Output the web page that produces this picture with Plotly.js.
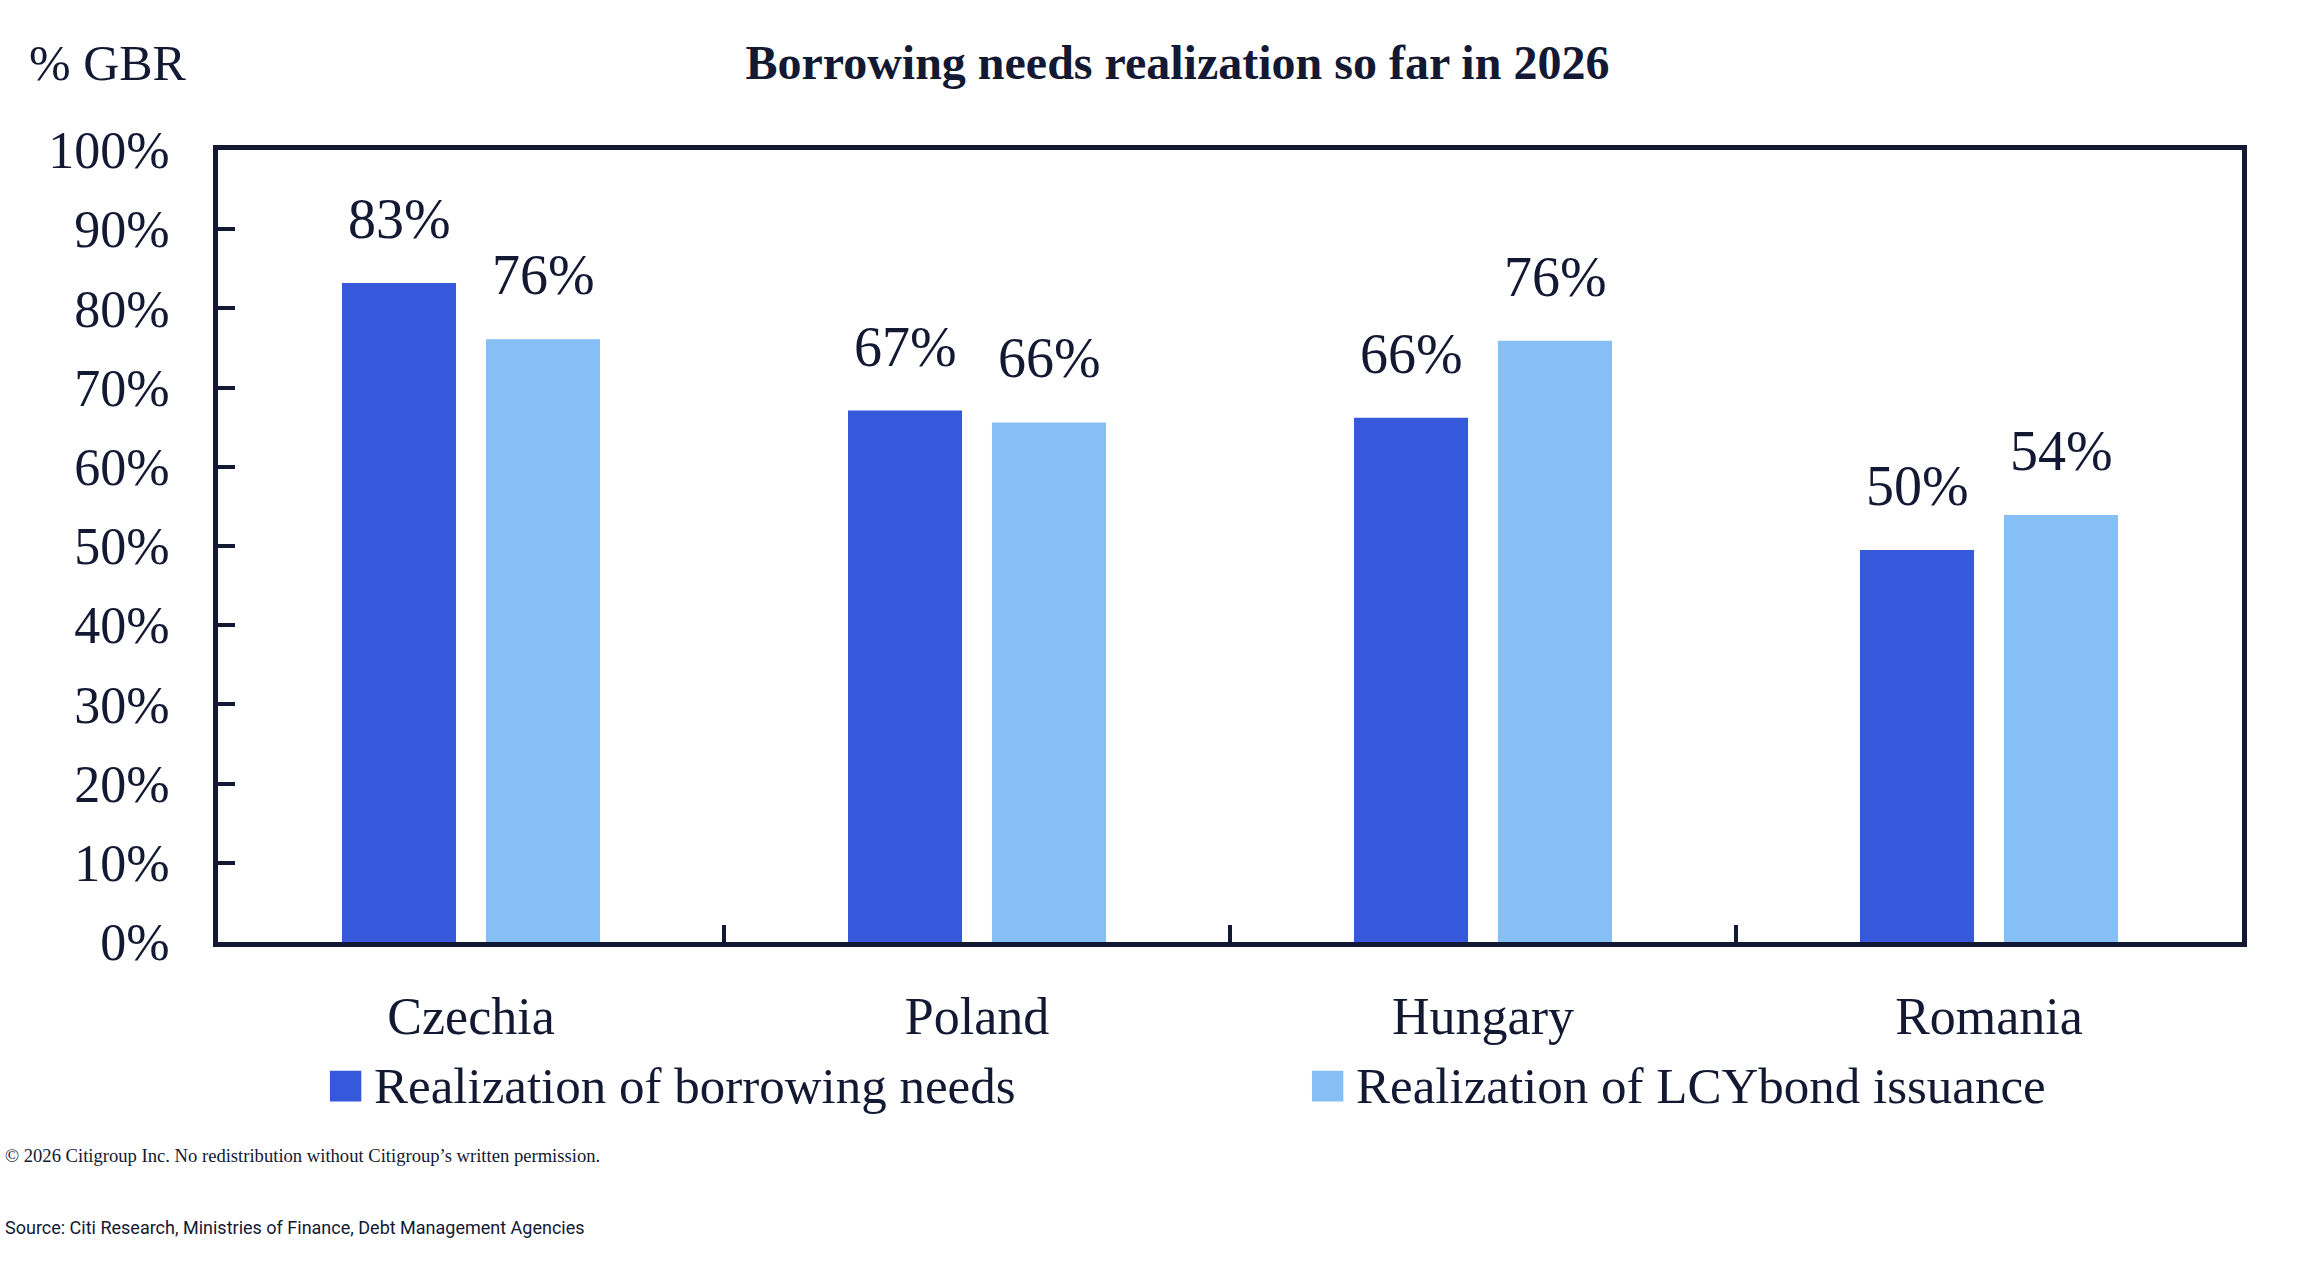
<!DOCTYPE html>
<html>
<head>
<meta charset="utf-8">
<script src="https://cdn.plot.ly/plotly-3.0.1.min.js"></script>
<style>
  html, body { margin: 0; padding: 0; background: #ffffff; }
  #chart { width: 2302px; height: 1268px; }
</style>
</head>
<body>
<div id="chart"></div>
<script>
// chart data
var categories = ['Czechia', 'Poland', 'Hungary', 'Romania'];
var seriesNames = ['Realization of borrowing needs', 'Realization of LCYbond issuance'];
var borrowingNeeds = [83.2, 67.1, 66.2, 49.5];
var lcyBondIssuance = [76.1, 65.6, 75.9, 53.9];
var yTickValues = [0, 10, 20, 30, 40, 50, 60, 70, 80, 90, 100];

(function () {
  'use strict';

  var ink = '#131833';
  var serif = '"Liberation Serif", "DejaVu Serif", serif';
  var colors = ['#3559DA', '#86BFF6'];
  var series = [borrowingNeeds, lcyBondIssuance];

  var traces = series.map(function (vals, i) {
    return {
      type: 'bar',
      name: seriesNames[i],
      x: categories,
      y: vals,
      marker: { color: colors[i], line: { width: 0 } },
      showlegend: false,
      hoverinfo: 'skip'
    };
  });

  // value labels above the bars
  var annotations = [];
  series.forEach(function (vals, s) {
    vals.forEach(function (v, i) {
      annotations.push({
        x: categories[i],
        y: v,
        xref: 'x',
        yref: 'y',
        xshift: s === 0 ? -72 : 72,
        yshift: 31,
        yanchor: 'bottom',
        xanchor: 'center',
        showarrow: false,
        text: Math.round(v) + '%',
        font: { family: serif, size: 56, color: ink }
      });
    });
  });

  // axis unit label, top left
  annotations.push({
    xref: 'paper', yref: 'paper',
    x: -0.0944, y: 1.11,
    xanchor: 'left', yanchor: 'middle',
    showarrow: false,
    text: '% GBR',
    font: { family: serif, size: 50, color: ink }
  });

  // legend, drawn by hand so the swatches can be large
  var legendX = [0.0553, 0.5405];
  var shapes = [];
  seriesNames.forEach(function (name, i) {
    shapes.push({
      type: 'rect', xref: 'paper', yref: 'paper',
      x0: legendX[i], x1: legendX[i] + 0.0155,
      y0: -0.2015, y1: -0.1625,
      fillcolor: colors[i], line: { width: 0 }
    });
    annotations.push({
      xref: 'paper', yref: 'paper',
      x: legendX[i] + 0.021, y: -0.1818,
      xanchor: 'left', yanchor: 'middle',
      showarrow: false,
      text: name,
      font: { family: serif, size: 51, color: ink }
    });
  });

  // footnotes
  annotations.push({
    xref: 'paper', yref: 'paper',
    x: -0.1062, y: -0.269,
    xanchor: 'left', yanchor: 'middle',
    showarrow: false,
    text: '\u00a9 2026 Citigroup Inc. No redistribution without Citigroup\u2019s written permission.',
    font: { family: serif, size: 18.6, color: ink }
  });
  annotations.push({
    xref: 'paper', yref: 'paper',
    x: -0.1062, y: -0.36,
    xanchor: 'left', yanchor: 'middle',
    showarrow: false,
    text: 'Source: Citi Research, Ministries of Finance, Debt Management Agencies',
    font: { family: 'Roboto, "Liberation Sans", sans-serif', size: 18, color: ink }
  });

  var layout = {
    width: 2302,
    height: 1268,
    paper_bgcolor: '#ffffff',
    plot_bgcolor: '#ffffff',
    margin: { l: 218, r: 60, t: 150, b: 326 },
    font: { family: serif, color: ink },
    barmode: 'group',
    bargap: 0.431,
    bargroupgap: 0.208,
    title: {
      text: '<b>Borrowing needs realization so far in 2026</b>',
      font: { family: serif, size: 48, color: ink },
      xref: 'paper',
      x: 0.474,
      xanchor: 'center',
      yref: 'container',
      y: 0.951,
      yanchor: 'middle'
    },
    xaxis: {
      type: 'category',
      showline: true,
      linecolor: ink,
      linewidth: 5,
      mirror: true,
      ticks: 'inside',
      tickson: 'boundaries',
      ticklen: 17,
      tickwidth: 4,
      tickcolor: ink,
      ticklabelstandoff: 25,
      tickfont: { family: serif, size: 52, color: ink },
      showgrid: false,
      zeroline: false,
      fixedrange: true
    },
    yaxis: {
      range: [0, 100],
      tickvals: yTickValues,
      ticktext: yTickValues.map(function (v) { return v + '%'; }),
      showline: true,
      linecolor: ink,
      linewidth: 5,
      mirror: true,
      ticks: 'inside',
      ticklen: 17,
      tickwidth: 4,
      tickcolor: ink,
      ticklabelstandoff: 33,
      tickfont: { family: serif, size: 52, color: ink },
      showgrid: false,
      zeroline: false,
      fixedrange: true
    },
    annotations: annotations,
    shapes: shapes,
    showlegend: false
  };

  Plotly.newPlot('chart', traces, layout, { displayModeBar: false, responsive: false });
})();
</script>
</body>
</html>
